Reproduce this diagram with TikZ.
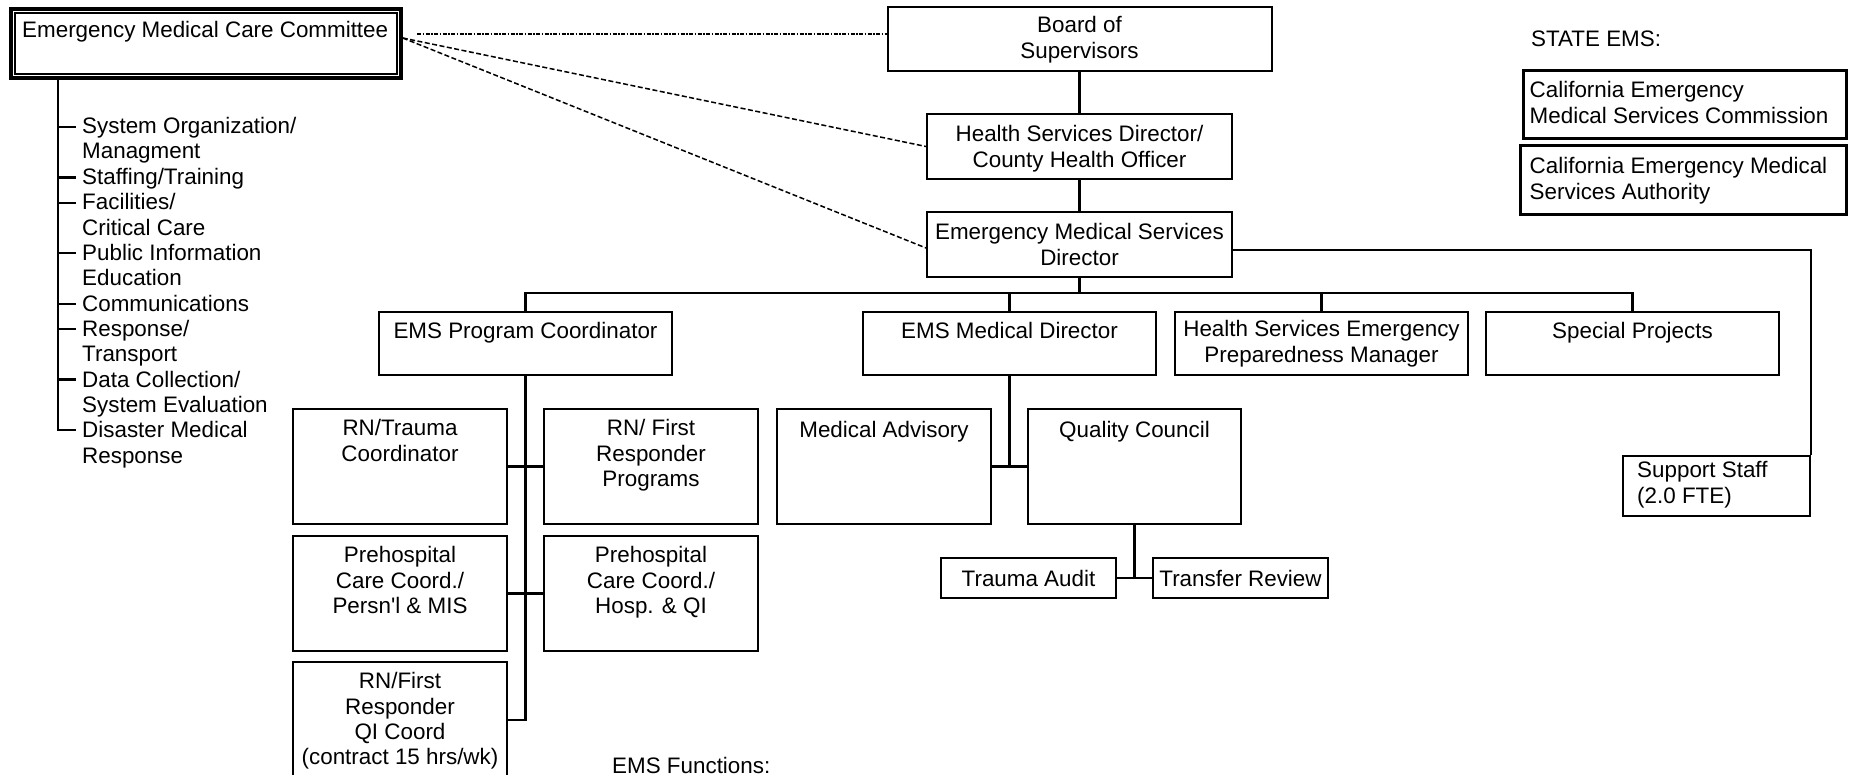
\documentclass[tikz,border=0pt]{standalone}
\usepackage{fontspec}
\setmainfont{Liberation Sans}[Ligatures=TeXOff]
\begin{document}
\begin{tikzpicture}[x=1pt,y=-1pt,
  every node/.style={font=\fontsize{22.4}{25.35}\selectfont, inner sep=0pt},
  bx/.style={draw, line width=2pt, rectangle},
  sbx/.style={draw, line width=3pt, rectangle},
  bt/.style={anchor=north, align=center, execute at begin node=\strut},
  lt/.style={anchor=north west, align=left, execute at begin node=\strut},
  conn/.style={line width=2.1pt},
  dashline/.style={line width=1.5pt, dash pattern=on 5pt off 2.5pt},
  dotline/.style={line width=1.6pt, dash pattern=on 4pt off 1.5pt on 1.5pt off 1.5pt}]
\useasboundingbox (0,0) rectangle (1851,775);

% Committee (double border)
\node[draw, line width=3.5pt, minimum width=390pt, minimum height=69pt] (emcc) at (206,43.5) {};
\draw[line width=1.3pt] ([shift={(5.8,5.8)}]emcc.north west) rectangle ([shift={(-5.8,-5.8)}]emcc.south east);
\node[anchor=base west] (emcct) at (22,38) {Emergency Medical Care Committee};

% functions list
\coordinate (fx) at (58,0);
\draw[conn] (emcc.south -| fx) -- (58,430) -- (76,430);
\foreach \k in {0,2,3,5,7,8,10} \draw[conn] (58,{127+25.25*\k}) -- ++(18,0);
\node[lt] (funcs) at (82,117.2) {System Organization/\\Managment\\Staffing/Training\\Facilities/\\Critical Care\\Public Information\\Education\\Communications\\Response/\\Transport\\Data Collection/\\System Evaluation\\Disaster Medical\\Response};

% County chain
\node[bx, minimum width=384pt, minimum height=64pt] (bos) at (1079.5,39) {};
\node[bt] (bost) at ([yshift=-10.3pt]bos.north) {Board of\\Supervisors};
\node[bx, minimum width=305pt, minimum height=65pt] (hsd) at (1079.5,146.5) {};
\node[bt] (hsdt) at ([yshift=-12.3pt]hsd.north) {Health Services Director/\\County Health Officer};
\node[bx, minimum width=305pt, minimum height=65pt] (emsd) at (1079.5,244.5) {};
\node[bt] (emsdt) at ([yshift=-12.3pt]emsd.north) {Emergency Medical Services\\Director};

% second row
\node[bx, minimum width=293pt, minimum height=63pt] (pc) at (525.5,343.5) {};
\node[bt] (pct) at ([yshift=-9.3pt]pc.north) {EMS Program Coordinator};
\node[bx, minimum width=293pt, minimum height=63pt] (emd) at (1009.5,343.5) {};
\node[bt] (emdt) at ([yshift=-9.3pt]emd.north) {EMS Medical Director};
\node[bx, minimum width=293pt, minimum height=63pt] (hsepm) at (1321.5,343.5) {};
\node[bt] (hsepmt) at ([yshift=-9.3pt]hsepm.north) {Health Services Emergency\\Preparedness Manager};
\node[bx, minimum width=293pt, minimum height=63pt] (sp) at (1632.5,343.5) {};
\node[bt] (spt) at ([yshift=-9.3pt]sp.north) {Special Projects};

% program coordinator staff
\node[bx, minimum width=214pt, minimum height=115pt] (rnt) at (400,466.5) {};
\node[bt] (rntt) at ([yshift=-11.3pt]rnt.north) {RN/Trauma\\Coordinator};
\node[bx, minimum width=214pt, minimum height=115pt] (rnfr) at (651,466.5) {};
\node[bt] (rnfrt) at ([yshift=-11.3pt]rnfr.north) {RN/ First\\Responder\\Programs};
\node[bx, minimum width=214pt, minimum height=115pt] (php) at (400,593.5) {};
\node[bt] (phpt) at ([yshift=-11.3pt]php.north) {Prehospital\\Care Coord./\\Persn'l \& MIS};
\node[bx, minimum width=214pt, minimum height=115pt] (phh) at (651,593.5) {};
\node[bt] (phht) at ([yshift=-11.3pt]phh.north) {Prehospital\\Care Coord./\\Hosp. \& QI};
\node[bx, minimum width=214pt, minimum height=116pt] (qi) at (400,720) {};
\node[bt] (qit) at ([yshift=-11.3pt]qi.north) {RN/First\\Responder\\QI Coord\\(contract 15 hrs/wk)};

% medical director staff
\node[bx, minimum width=214pt, minimum height=115pt] (ma) at (884,466.5) {};
\node[bt] (mat) at ([yshift=-11.3pt]ma.north) {Medical Advisory};
\node[bx, minimum width=213pt, minimum height=115pt] (qc) at (1134.5,466.5) {};
\node[bt] (qct) at ([yshift=-11.3pt]qc.north) {Quality Council};
\node[bx, minimum width=175pt, minimum height=40pt] (ta) at (1028.5,578) {};
\node[anchor=base] (tat) at ([yshift=-8pt]ta.center) {Trauma Audit};
\node[bx, minimum width=175pt, minimum height=40pt] (tr) at (1240.5,578) {};
\node[anchor=base] (trt) at ([yshift=-8pt]tr.center) {Transfer Review};

% support staff
\node[bx, minimum width=187pt, minimum height=60pt] (sup) at (1716.5,486) {};
\node[lt] (supt) at ([shift={(15,6.3)}]sup.north west) {Support Staff\\(2.0 FTE)};

% state EMS
\node[anchor=base west] (state) at (1531,47) {STATE EMS:};
\node[sbx, minimum width=323pt, minimum height=68pt] (com) at (1684.5,105) {};
\node[lt] (comt) at ([shift={(8,11.8)}]com.north west) {California Emergency\\Medical Services Commission};
\node[sbx, minimum width=326pt, minimum height=69pt] (auth) at (1683,180.5) {};
\node[lt] (autht) at ([shift={(11,12.8)}]auth.north west) {California Emergency Medical\\Services Authority};

\node[anchor=base west] (emsf) at (612,773) {EMS Functions:};

% connectors
\draw[conn] (bos.south) -- (hsd.north);
\draw[conn] (hsd.south) -- (emsd.north);
\coordinate (busy) at (0,293);
\draw[conn] (emsd.south) -- (emsd.south |- busy);
\draw[conn] (pc.north) -- (pc.north |- busy) -- (sp.north |- busy) -- (sp.north);
\draw[conn] (emd.north) -- (emd.north |- busy);
\draw[conn] (hsepm.north) -- (hsepm.north |- busy);
\draw[conn] (pc.south) -- (pc.south |- qi.east) -- (qi.east);
\draw[conn] (rnt.east) -- (rnfr.west);
\draw[conn] (php.east) -- (phh.west);
\draw[conn] (emd.south) -- (emd.south |- ma.east);
\draw[conn] (ma.east) -- (qc.west);
\draw[conn] (qc.south) -- (qc.south |- ta.east);
\draw[conn] (ta.east) -- (tr.west);
\draw[conn] ([yshift=-5.5pt]emsd.east) -| (sup.north east);

\draw[dashline] ([yshift=5.5pt]emcc.east) -- (hsd.west);
\draw[dashline] ([yshift=5.5pt]emcc.east) -- ([yshift=-3.5pt]emsd.west);
\coordinate (dots) at (417,34);
\draw[dotline] (dots) -- (dots -| bos.west);
\end{tikzpicture}
\end{document}
